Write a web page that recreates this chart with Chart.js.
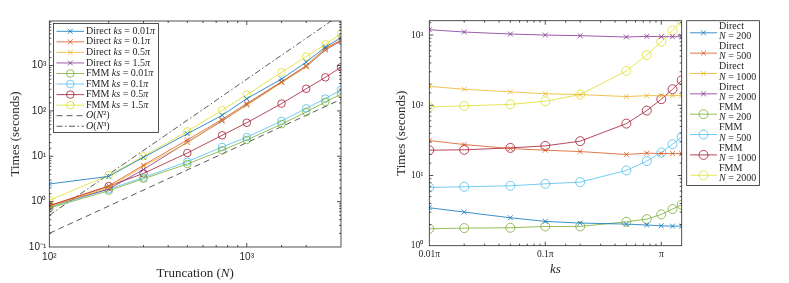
<!DOCTYPE html>
<html><head><meta charset="utf-8">
<script src="https://cdn.jsdelivr.net/npm/chart.js@4.4.1/dist/chart.umd.min.js"></script>
<style>
html,body{margin:0;padding:0;background:#fff;width:789px;height:283px;overflow:hidden}
#c1{position:absolute;left:0;top:0}
#c2{position:absolute;left:390px;top:0}
</style></head><body>
<canvas id="c1" width="390" height="283"></canvas>
<canvas id="c2" width="399" height="283"></canvas>
<script>
// ===== Left panel: time vs truncation N =====
const truncationN   = [100, 200, 300, 500, 750, 1000, 1500, 2000, 2500, 3000];
const directKs001   = [2.45, 3.6, 9.5, 31.4, 80, 186, 505, 1191, 2570, 4120];
const directKs01    = [0.82, 2.22, 6.4, 22.9, 65, 146, 440, 1000, 2400, 3650];
const directKs05    = [0.78, 2.03, 6.0, 19.9, 62, 133, 420, 937, 2300, 3600];
const directKs15    = [0.80, 1.90, 5.1, 20.5, 60, 137, 430, 947, 2200, 3500];
const fmmKs001      = [0.72, 1.74, 3.2, 6.75, 13.5, 22.9, 51, 94.7, 158, 234];
const fmmKs01       = [0.75, 1.88, 3.4, 7.61, 16, 26.4, 60, 114, 187, 293];
const fmmKs05       = [0.80, 2.19, 4.2, 11.8, 29, 54.8, 145, 308, 550, 918];
const fmmKs15       = [1.07, 3.83, 10, 35.5, 104, 227, 708, 1581, 2930, 5060];
const refN          = [100, 3000];
const refON2        = [0.2, 180];
const refON3        = [0.5, 13500];
const leftLabels = ['Direct ks = 0.01π','Direct ks = 0.1π','Direct ks = 0.5π','Direct ks = 1.5π',
                    'FMM ks = 0.01π','FMM ks = 0.1π','FMM ks = 0.5π','FMM ks = 1.5π','O(N²)','O(N³)'];
const leftXTickValues = [100, 1000];
const leftXTickLabels = ['10²', '10³'];
const leftYTickValues = [0.1, 1, 10, 100, 1000];
const leftYTickLabels = ['10⁻¹', '10⁰', '10¹', '10²', '10³'];

// ===== Right panel: time vs ks =====
const ksOverPi   = [0.01, 0.02, 0.05, 0.1, 0.2, 0.5, 0.75, 1, 1.25, 1.5];
const directN200 = [3.47, 3.01, 2.50, 2.22, 2.10, 2.03, 1.97, 1.92, 1.90, 1.90];
const directN500 = [31.4, 27.6, 24.2, 22.9, 21.9, 19.9, 20.8, 20.5, 20.5, 20.5];
const directN1000= [186, 169, 155, 146, 142, 133, 137, 137, 137, 137];
const directN2000= [1191, 1104, 1033, 1000, 979, 937, 957, 947, 947, 947];
const fmmN200    = [1.74, 1.78, 1.80, 1.88, 1.88, 2.19, 2.39, 2.79, 3.32, 3.83];
const fmmN500    = [6.75, 6.90, 7.13, 7.61, 8.04, 11.8, 16.0, 21.2, 27.9, 35.5];
const fmmN1000   = [22.9, 23.2, 24.7, 26.4, 30.8, 54.8, 84, 122, 169, 227];
const fmmN2000   = [94.7, 97.9, 103, 114, 142, 308, 520, 804, 1165, 1581];
const rightLabels = [['Direct','N = 200'],['Direct','N = 500'],['Direct','N = 1000'],['Direct','N = 2000'],
                     ['FMM','N = 200'],['FMM','N = 500'],['FMM','N = 1000'],['FMM','N = 2000']];
const rightXTickValues = [0.01, 0.1, 1];
const rightXTickLabels = ['0.01π', '0.1π', 'π'];
const rightYTickValues = [1, 10, 100, 1000];
const rightYTickLabels = ['10⁰', '10¹', '10²', '10³'];

// ===== styling =====
const A = 0.78;
const palette = [
  `rgba(0,114,189,${A})`, `rgba(217,83,25,${A})`, `rgba(237,177,32,${A})`, `rgba(126,47,142,${A})`,
  `rgba(119,172,48,${A})`, `rgba(77,190,238,${A})`, `rgba(162,20,47,${A})`, `rgba(222,222,40,${A})`
];
const AX = '#262626';
const SERIF = '"Liberation Serif", "Times New Roman", serif';
const SANS = '"Liberation Sans", Arial, sans-serif';

function pts(xs, ys) { return xs.map((x, i) => ({x: x, y: ys[i]})); }
function isPow10(v) { const l = Math.log10(v); return Math.abs(l - Math.round(l)) < 1e-6; }
function lookup(vals, labels) {
  return function (v) {
    const i = vals.findIndex(t => Math.abs(Math.log10(t) - Math.log10(v)) < 1e-6);
    return i >= 0 ? labels[i] : '';
  };
}

function drawRich(ctx, str, x, y, size, italicSet, align) {
  const segs = [];
  for (const ch of str) {
    const it = italicSet.includes(ch);
    if (segs.length && segs[segs.length - 1].it === it) segs[segs.length - 1].t += ch;
    else segs.push({t: ch, it: it});
  }
  const fontOf = s => (s.it ? 'italic ' : '') + size + 'px ' + SERIF;
  let total = 0;
  segs.forEach(s => { ctx.font = fontOf(s); s.w = ctx.measureText(s.t).width; total += s.w; });
  let cx = align === 'center' ? x - total / 2 : x;
  ctx.textAlign = 'left'; ctx.textBaseline = 'middle'; ctx.fillStyle = AX;
  segs.forEach(s => { ctx.font = fontOf(s); ctx.fillText(s.t, cx, y); cx += s.w; });
}

function drawMarker(ctx, style, x, y, r, color) {
  ctx.save();
  ctx.setLineDash([]); ctx.strokeStyle = color; ctx.lineWidth = 1;
  ctx.beginPath();
  if (style === 'crossRot') {
    const d = r * 0.7071;
    ctx.moveTo(x - d, y - d); ctx.lineTo(x + d, y + d);
    ctx.moveTo(x - d, y + d); ctx.lineTo(x + d, y - d);
  } else if (style === 'circle') {
    ctx.arc(x, y, r, 0, Math.PI * 2);
  }
  ctx.stroke();
  ctx.restore();
}

const axisFrame = {
  id: 'axisFrame',
  afterDatasetsDraw(chart) {
    const {ctx, chartArea: a, scales: {x, y}} = chart;
    ctx.save();
    ctx.strokeStyle = AX; ctx.lineWidth = 0.8; ctx.setLineDash([]);
    ctx.strokeRect(a.left, a.top, a.right - a.left, a.bottom - a.top);
    ctx.beginPath();
    x.ticks.forEach(t => {
      const p = x.getPixelForValue(t.value);
      if (p <= a.left + 0.5 || p >= a.right - 0.5) return;
      const L = isPow10(t.value) ? 4 : 2;
      ctx.moveTo(p, a.bottom); ctx.lineTo(p, a.bottom - L);
      ctx.moveTo(p, a.top); ctx.lineTo(p, a.top + L);
    });
    y.ticks.forEach(t => {
      const p = y.getPixelForValue(t.value);
      if (p <= a.top + 0.5 || p >= a.bottom - 0.5) return;
      const L = isPow10(t.value) ? 4 : 2;
      ctx.moveTo(a.left, p); ctx.lineTo(a.left + L, p);
      ctx.moveTo(a.right, p); ctx.lineTo(a.right - L, p);
    });
    ctx.stroke();
    ctx.restore();
  }
};

function baseScale(type, min, max, tickVals, tickLabs, font, pad) {
  return {
    type: type, min: min, max: max,
    grid: {display: false, drawTicks: false},
    border: {display: false},
    ticks: {autoSkip: false, maxRotation: 0, padding: pad, color: AX, font: font,
            callback: lookup(tickVals, tickLabs)}
  };
}

// ===== Left chart =====
const leftSeries = [directKs001, directKs01, directKs05, directKs15, fmmKs001, fmmKs01, fmmKs05, fmmKs15];
const leftDatasets = leftSeries.map((s, i) => {
  const direct = i < 4;
  return {
    label: leftLabels[i], data: pts(truncationN, s),
    borderColor: palette[i], borderWidth: 1, backgroundColor: 'rgba(0,0,0,0)',
    pointStyle: direct ? 'crossRot' : 'circle', pointRadius: direct ? 3.5 : 3.8,
    pointBorderColor: palette[i], pointBackgroundColor: 'rgba(0,0,0,0)', pointBorderWidth: 1,
    tension: 0
  };
});
leftDatasets.push({label: leftLabels[8], data: pts(refN, refON2), borderColor: 'rgba(40,40,40,0.85)',
  borderWidth: 0.9, borderDash: [6, 4], pointRadius: 0, pointStyle: false});
leftDatasets.push({label: leftLabels[9], data: pts(refN, refON3), borderColor: 'rgba(40,40,40,0.85)',
  borderWidth: 0.9, borderDash: [6, 2.5, 1.5, 2.5], pointRadius: 0, pointStyle: false});

const leftLegend = {
  id: 'leftLegend',
  afterDraw(chart) {
    const ctx = chart.ctx;
    ctx.save();
    ctx.fillStyle = '#fff';
    ctx.fillRect(53.5, 23.5, 105, 109);
    ctx.strokeStyle = AX; ctx.lineWidth = 0.8; ctx.setLineDash([]);
    ctx.strokeRect(53.5, 23.5, 105, 109);
    chart.data.datasets.forEach((d, i) => {
      const yy = 31.3 + 10.55 * i;
      ctx.save();
      ctx.strokeStyle = d.borderColor; ctx.lineWidth = d.borderWidth;
      ctx.setLineDash(d.borderDash || []);
      ctx.beginPath(); ctx.moveTo(56.5, yy); ctx.lineTo(84, yy); ctx.stroke();
      ctx.restore();
      if (d.pointStyle) drawMarker(ctx, d.pointStyle, 70.3, yy, d.pointRadius, d.borderColor);
      drawRich(ctx, d.label, 86, yy, 10, 'ksπNO', 'left');
    });
    // x-axis title with italic N
    const a = chart.chartArea;
    drawRich(ctx, 'Truncation (N)', (a.left + a.right) / 2, 273.5, 13, 'N', 'center');
    ctx.restore();
  }
};

new Chart(document.getElementById('c1'), {
  type: 'line',
  data: {datasets: leftDatasets},
  options: {
    responsive: false, animation: false, devicePixelRatio: 1,
    layout: {padding: {left: 0, top: 21, right: 49, bottom: 0}},
    plugins: {legend: {display: false}, tooltip: {enabled: false}},
    scales: {
      x: Object.assign(baseScale('logarithmic', 100, 3000, leftXTickValues, leftXTickLabels,
            {family: SANS, size: 10}, 4), {afterFit: s => { s.height = 36; }}),
      y: Object.assign(baseScale('logarithmic', 0.1, 9600, leftYTickValues, leftYTickLabels,
            {family: SANS, size: 10}, 3), {
            afterFit: s => { s.width = 49.3; },
            title: {display: true, text: 'Times (seconds)', color: AX,
                    font: {family: SERIF, size: 13}, padding: {top: 7.5, bottom: 0}}})
    }
  },
  plugins: [axisFrame, leftLegend]
});

// ===== Right chart =====
const rightSeries = [directN200, directN500, directN1000, directN2000, fmmN200, fmmN500, fmmN1000, fmmN2000];
const rightDatasets = rightSeries.map((s, i) => {
  const direct = i < 4;
  return {
    label: rightLabels[i].join(' '), twoLine: rightLabels[i], data: pts(ksOverPi, s),
    borderColor: palette[i], borderWidth: 1, backgroundColor: 'rgba(0,0,0,0)',
    pointStyle: direct ? 'crossRot' : 'circle', pointRadius: direct ? 3.5 : 4.5,
    pointBorderColor: palette[i], pointBackgroundColor: 'rgba(0,0,0,0)', pointBorderWidth: 1,
    tension: 0
  };
});

const rightLegend = {
  id: 'rightLegend',
  afterDraw(chart) {
    const ctx = chart.ctx;
    ctx.save();
    const bx = 296.7, by = 20.7, bw = 72.8, bh = 164.8;
    ctx.fillStyle = '#fff'; ctx.fillRect(bx, by, bw, bh);
    ctx.strokeStyle = AX; ctx.lineWidth = 0.8; ctx.setLineDash([]);
    ctx.strokeRect(bx, by, bw, bh);
    chart.data.datasets.forEach((d, i) => {
      const ly = 32.8 + 20.35 * i;
      ctx.save();
      ctx.strokeStyle = d.borderColor; ctx.lineWidth = 1;
      ctx.beginPath(); ctx.moveTo(300, ly); ctx.lineTo(327, ly); ctx.stroke();
      ctx.restore();
      drawMarker(ctx, d.pointStyle, 313.5, ly, d.pointRadius, d.borderColor);
      drawRich(ctx, d.twoLine[0], 329, 25.9 + 20.35 * i, 10, 'N', 'left');
      drawRich(ctx, d.twoLine[1], 329, 36.4 + 20.35 * i, 10, 'N', 'left');
    });
    ctx.restore();
  }
};

new Chart(document.getElementById('c2'), {
  type: 'line',
  data: {datasets: rightDatasets},
  options: {
    responsive: false, animation: false, devicePixelRatio: 1,
    layout: {padding: {left: 0, top: 20.7, right: 107.3, bottom: 0}},
    plugins: {legend: {display: false}, tooltip: {enabled: false}},
    scales: {
      x: Object.assign(baseScale('logarithmic', 0.01, 1.5, rightXTickValues, rightXTickLabels,
            {family: SERIF, size: 9.5}, 3.5), {
            afterFit: s => { s.height = 37.3; },
            title: {display: true, text: 'ks', color: AX,
                    font: {family: SERIF, size: 13, style: 'italic'}, padding: {top: 0, bottom: 6}}}),
      y: Object.assign(baseScale('logarithmic', 1, 1600, rightYTickValues, rightYTickLabels,
            {family: SERIF, size: 9.5}, 6), {
            afterFit: s => { s.width = 39.3; },
            title: {display: true, text: 'Times (seconds)', color: AX,
                    font: {family: SERIF, size: 13}, padding: {top: 4.2, bottom: 0}}})
    }
  },
  plugins: [axisFrame, rightLegend]
});
</script>
</body></html>
